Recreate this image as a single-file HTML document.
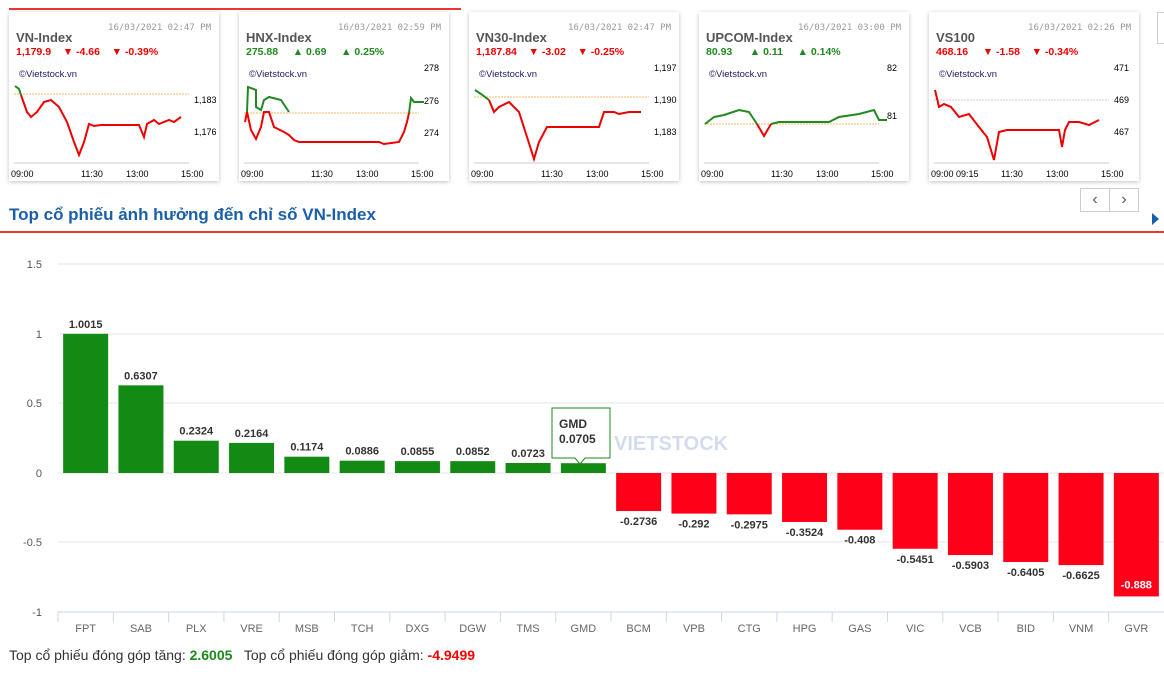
<!DOCTYPE html>
<html><head><meta charset="utf-8"><style>
body{margin:0;width:1164px;height:674px;overflow:hidden;background:#fff;font-family:"Liberation Sans","Noto Sans CJK SC",sans-serif;position:relative}
.card{position:absolute;top:12px;width:210px;height:169px;background:#fff;box-shadow:0 1px 4px rgba(0,0,0,.25)}
.dt{position:absolute;right:8px;top:11px;font-size:9px;color:#999;font-family:"DejaVu Sans Mono",monospace}
.nm{position:absolute;left:7px;top:18px;font-size:13px;font-weight:bold;color:#555}
.vl{position:absolute;left:7px;top:34px;font-size:10.5px;font-weight:bold;white-space:pre}
.cp{position:absolute;left:10px;top:57px;font-size:9.5px;color:#1a1a66}
.abs{position:absolute}
</style></head><body>
<div class="abs" style="left:9px;top:8px;width:452px;height:2px;background:#e33"></div>

<div class="card" style="left:9px"><div class="dt">16/03/2021 02:47 PM</div><div class="nm">VN-Index</div><div class="vl" style="color:#e00">1,179.9    ▼ -4.66    ▼ -0.39%</div><div class="cp">©Vietstock.vn</div>
<svg class="abs" style="left:0;top:0" width="210" height="169"><line x1="5" y1="82" x2="180" y2="82" stroke="#f5b860" stroke-dasharray="2,1"/><line x1="5" y1="151" x2="180" y2="151" stroke="#ccc"/>
<polyline fill="none" stroke="#e00" stroke-width="2" points="12,83 18,100 22,105 28,100 35,90 42,88 50,95 58,110 65,130 70,143 75,130 80,112 85,114 92,113 130,113 135,125 138,112 145,108 150,112 160,108 165,110 172,105"/><polyline fill="none" stroke="#282" stroke-width="2" points="6,74 10,77 12,83"/>
<text x="185" y="91" font-size="9" font-family="Liberation Sans">1,183</text><text x="185" y="123" font-size="9" font-family="Liberation Sans">1,176</text><text x="2" y="165" font-size="9" font-family="Liberation Sans">09:00</text><text x="72" y="165" font-size="9" font-family="Liberation Sans">11:30</text><text x="117" y="165" font-size="9" font-family="Liberation Sans">13:00</text><text x="172" y="165" font-size="9" font-family="Liberation Sans">15:00</text></svg></div>

<div class="card" style="left:239px"><div class="dt">16/03/2021 02:59 PM</div><div class="nm">HNX-Index</div><div class="vl" style="color:#282">275.88     ▲ 0.69     ▲ 0.25%</div><div class="cp">©Vietstock.vn</div>
<svg class="abs" style="left:0;top:0" width="210" height="169"><line x1="5" y1="101" x2="180" y2="101" stroke="#f5b860" stroke-dasharray="2,1"/><line x1="5" y1="151" x2="180" y2="151" stroke="#ccc"/>
<polyline fill="none" stroke="#e00" stroke-width="2" points="6,110 8,100 12,118 17,127 22,115 25,100 30,100 35,115 45,120 50,123 55,128 60,130 140,130 145,132 160,130 165,120 168,110 170,101"/><path fill="none" stroke="#282" stroke-width="2" d="M8,100 L9,75 L17,78 L17,95 L22,98 L25,88 L30,85 L42,88 L50,100 M170,101 L172,86 L175,90 L185,90"/>
<text x="185" y="59" font-size="9" font-family="Liberation Sans">278</text><text x="185" y="92" font-size="9" font-family="Liberation Sans">276</text><text x="185" y="124" font-size="9" font-family="Liberation Sans">274</text><text x="2" y="165" font-size="9" font-family="Liberation Sans">09:00</text><text x="72" y="165" font-size="9" font-family="Liberation Sans">11:30</text><text x="117" y="165" font-size="9" font-family="Liberation Sans">13:00</text><text x="172" y="165" font-size="9" font-family="Liberation Sans">15:00</text></svg></div>

<div class="card" style="left:469px"><div class="dt">16/03/2021 02:47 PM</div><div class="nm">VN30-Index</div><div class="vl" style="color:#e00">1,187.84    ▼ -3.02    ▼ -0.25%</div><div class="cp">©Vietstock.vn</div>
<svg class="abs" style="left:0;top:0" width="210" height="169"><line x1="5" y1="85" x2="180" y2="85" stroke="#f5b860" stroke-dasharray="2,1"/><line x1="5" y1="151" x2="180" y2="151" stroke="#ccc"/>
<polyline fill="none" stroke="#e00" stroke-width="2" points="20,88 25,100 30,95 40,90 50,100 58,125 65,147 70,130 78,115 130,115 135,100 145,100 150,102 160,100 172,100"/><polyline fill="none" stroke="#282" stroke-width="2" points="6,78 12,82 20,88"/>
<text x="185" y="59" font-size="9" font-family="Liberation Sans">1,197</text><text x="185" y="91" font-size="9" font-family="Liberation Sans">1,190</text><text x="185" y="123" font-size="9" font-family="Liberation Sans">1,183</text><text x="2" y="165" font-size="9" font-family="Liberation Sans">09:00</text><text x="72" y="165" font-size="9" font-family="Liberation Sans">11:30</text><text x="117" y="165" font-size="9" font-family="Liberation Sans">13:00</text><text x="172" y="165" font-size="9" font-family="Liberation Sans">15:00</text></svg></div>

<div class="card" style="left:699px"><div class="dt">16/03/2021 03:00 PM</div><div class="nm">UPCOM-Index</div><div class="vl" style="color:#282">80.93      ▲ 0.11     ▲ 0.14%</div><div class="cp">©Vietstock.vn</div>
<svg class="abs" style="left:0;top:0" width="210" height="169"><line x1="5" y1="112" x2="180" y2="112" stroke="#f5b860" stroke-dasharray="2,1"/><line x1="5" y1="151" x2="180" y2="151" stroke="#ccc"/>
<path fill="none" stroke="#282" stroke-width="2" d="M6,112 L15,105 L25,103 L40,98 L50,100 L58,112 M72,112 L80,110 L130,110 L140,105 L160,102 L175,98 L180,108 L188,108"/><polyline fill="none" stroke="#e00" stroke-width="2" points="58,112 65,124 72,112"/>
<text x="188" y="59" font-size="9" font-family="Liberation Sans">82</text><text x="188" y="107" font-size="9" font-family="Liberation Sans">81</text><text x="2" y="165" font-size="9" font-family="Liberation Sans">09:00</text><text x="72" y="165" font-size="9" font-family="Liberation Sans">11:30</text><text x="117" y="165" font-size="9" font-family="Liberation Sans">13:00</text><text x="172" y="165" font-size="9" font-family="Liberation Sans">15:00</text></svg></div>

<div class="card" style="left:929px"><div class="dt">16/03/2021 02:26 PM</div><div class="nm">VS100</div><div class="vl" style="color:#e00">468.16     ▼ -1.58    ▼ -0.34%</div><div class="cp">©Vietstock.vn</div>
<svg class="abs" style="left:0;top:0" width="210" height="169"><line x1="5" y1="88" x2="180" y2="88" stroke="#ccc" stroke-dasharray="2,1"/><line x1="5" y1="151" x2="180" y2="151" stroke="#ccc"/>
<polyline fill="none" stroke="#e00" stroke-width="2" points="6,78 10,95 15,92 22,95 30,105 40,102 50,115 58,125 65,148 70,120 78,118 130,118 133,135 136,118 140,110 150,110 160,113 170,108"/>
<text x="185" y="59" font-size="9" font-family="Liberation Sans">471</text><text x="185" y="91" font-size="9" font-family="Liberation Sans">469</text><text x="185" y="123" font-size="9" font-family="Liberation Sans">467</text><text x="2" y="165" font-size="9" font-family="Liberation Sans">09:00 09:15</text><text x="72" y="165" font-size="9" font-family="Liberation Sans">11:30</text><text x="117" y="165" font-size="9" font-family="Liberation Sans">13:00</text><text x="172" y="165" font-size="9" font-family="Liberation Sans">15:00</text></svg></div>

<div class="abs" style="left:1157px;top:12px;width:8px;height:30px;border:1px solid #ccc"></div>
<div class="abs" style="left:1080px;top:188px;width:28px;height:22px;border:1px solid #ccc;text-align:center;line-height:22px;color:#555">‹</div>
<div class="abs" style="left:1109px;top:188px;width:28px;height:22px;border:1px solid #ccc;text-align:center;line-height:22px;color:#555">›</div>
<div class="abs" style="left:9px;top:205px;font-size:17px;font-weight:bold;color:#1a5fa8">Top cổ phiếu ảnh hưởng đến chỉ số VN-Index</div>
<div class="abs" style="left:1152px;top:213px;width:0;height:0;border-left:7px solid #1a5fa8;border-top:6px solid transparent;border-bottom:6px solid transparent"></div>
<div class="abs" style="left:0;top:231px;width:1164px;height:2px;background:#e33"></div>

<svg class="abs" style="left:0;top:240px" width="1164" height="400" font-family="Liberation Sans">
<g transform="translate(0,-240)" font-size="11">
<g stroke="#e6e6e6"><line x1="58" y1="264" x2="1164" y2="264"/><line x1="58" y1="334" x2="1164" y2="334"/><line x1="58" y1="403" x2="1164" y2="403"/><line x1="58" y1="473" x2="1164" y2="473"/><line x1="58" y1="542" x2="1164" y2="542"/></g>
<line x1="58" y1="612" x2="1164" y2="612" stroke="#ccd6eb"/>
<g fill="#555" text-anchor="end"><text x="42" y="268">1.5</text><text x="42" y="338">1</text><text x="42" y="407">0.5</text><text x="42" y="477">0</text><text x="42" y="546">-0.5</text><text x="42" y="616">-1</text></g>
<g id="bars"></g>
<text x="614" y="450" font-size="20" font-weight="bold" fill="#4a7bb5" opacity="0.25">VIETSTOCK</text>
<g>
<path d="M552,408 h58 v50 h-25 l-5,6 l-5,-6 h-23 z" fill="#fff" stroke="#1b8a1b"/>
<text x="559" y="428" font-size="12" font-weight="bold" fill="#333">GMD</text><text x="559" y="443" font-size="12" font-weight="bold" fill="#333">0.0705</text>
</g>
</g></svg>
<div class="abs" style="left:9px;top:647px;font-size:14px;color:#333">Top cổ phiếu đóng góp tăng: <b style="color:#1b8a1b">2.6005</b> &nbsp; Top cổ phiếu đóng góp giảm: <b style="color:#f00">-4.9499</b></div>
<script>
var d=[["FPT",1.0015],["SAB",0.6307],["PLX",0.2324],["VRE",0.2164],["MSB",0.1174],["TCH",0.0886],["DXG",0.0855],["DGW",0.0852],["TMS",0.0723],["GMD",0.0705],["BCM",-0.2736],["VPB",-0.292],["CTG",-0.2975],["HPG",-0.3524],["GAS",-0.408],["VIC",-0.5451],["VCB",-0.5903],["BID",-0.6405],["VNM",-0.6625],["GVR",-0.888]];
var s="",w=(1164-58)/20,z=473,k=139;
d.forEach(function(e,i){var x0=58+i*w,cx=x0+w/2,v=e[1],h=Math.abs(v)*k,y=v>0?z-h:z;
s+='<rect x="'+(cx-22.5)+'" y="'+y+'" width="45" height="'+h+'" fill="'+(v>0?"#138a13":"#ff0019")+'"/>';
s+='<line x1="'+x0+'" y1="612" x2="'+x0+'" y2="622" stroke="#ccd6eb"/>';
s+='<text x="'+cx+'" y="632" text-anchor="middle" fill="#666">'+e[0]+'</text>';
var ly=v>0?y-6:(i==19?z+h-8:z+h+14);
if(i!=9)s+='<text x="'+cx+'" y="'+ly+'" text-anchor="middle" font-weight="bold" fill="'+(i==19?"#fff":"#333")+'">'+v+'</text>';});
document.getElementById("bars").innerHTML=s;
</script>
</body></html>
